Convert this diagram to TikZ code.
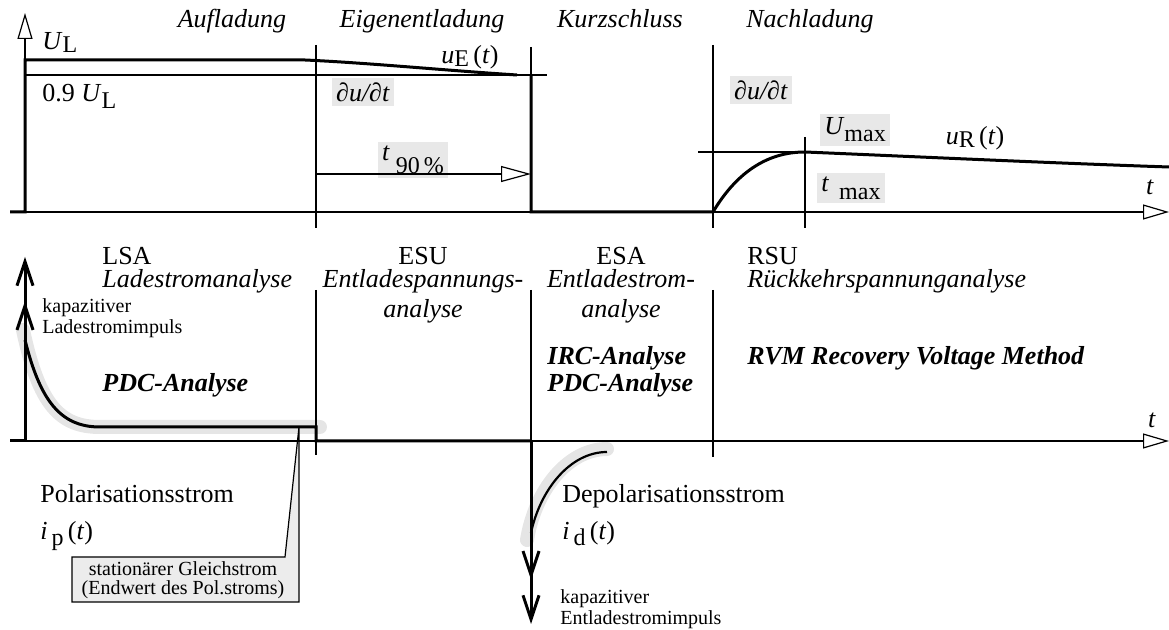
\documentclass[tikz,border=0pt]{standalone}
\usepackage{fontspec}
\setmainfont{Liberation Serif}
\usetikzlibrary{arrows.meta}

% lowered index, e.g. U_L
\newcommand\lowsub[2][2.5pt]{\raisebox{-#1}{\fontsize{12pt}{12pt}\selectfont #2}}
\newcommand\mainsize{\fontsize{13pt}{15pt}\selectfont}

\tikzset{
  sepline/.style={line width=0.6pt},
  sigline/.style={line width=1.5pt},
  axis/.style={sepline, -{Triangle[open,length=13pt,width=7.5pt]}},
  glow/.style={line width=7pt, gray!20, line cap=round},
  valbox/.style={fill=gray!18, inner sep=2pt},
  impulse/.style={sigline, -{Straight Barb[length=12pt,width=8pt,sep=7pt] Straight Barb[length=12pt,width=8pt]}},
  note/.style={font=\fontsize{10pt}{10.5pt}\selectfont, align=left, anchor=base west},
  phase/.style={font=\mainsize\itshape},
  method/.style={font=\mainsize\bfseries\itshape, anchor=base west},
}

\begin{document}
\begin{tikzpicture}[x=0.5pt, y=-0.5pt, font=\mainsize, every node/.append style={inner sep=0pt}]
  \useasboundingbox (0,0) rectangle (1169,630);

  % origins of both diagrams
  \coordinate (Ou) at (25,212);
  \coordinate (Oi) at (25,441);

  % grey highlights behind the currents
  \draw[glow] (23,330) .. controls (39,405) and (60,427) .. (100,427) -- (320,427);
  \draw[glow] (527,540) .. controls (535,490) and (568,449) .. (607,449);

  % callout
  \draw[sepline, fill=gray!15] (72,557) -- (285,557) -- (299,427) -- (299,602) -- (72,602) -- cycle;
  \node[font=\fontsize{10pt}{9.5pt}\selectfont, align=center] (endwert) at (183,580)
      {stationärer Gleichstrom\\(Endwert des Pol.stroms)};

  % value boxes
  \node[valbox] (dudtE) at (363,92)  {\textit{∂u/∂t}};
  \node[valbox] (t90)   at (413,160) {\textit{t}\hspace{3pt}\lowsub[6.5pt]{90\,\%}};
  \node[valbox] (dudtR) at (761,90)  {\textit{∂u/∂t}};
  \node[valbox] (Umax)  at (855,130) {\textit{U}\lowsub[3.5pt]{max}};
  \node[valbox] (tmax)  at (851,188) {\textit{t}\hspace{5pt}\lowsub[4pt]{max}};

  % ---- voltage diagram ----
  \draw[axis] (Ou) -- (25,13);
  \draw[axis] (Ou) -- (1169,212);
  \draw[sepline] (25,75) -- (547,75);
  \draw[sepline] (316,45) -- (316,228);
  \draw[sepline] (531,47) -- (531,212);
  \draw[sepline] (713,45) -- (713,228);
  \draw[sepline] (805,137) -- (805,228);
  \draw[sepline] (698,152) -- (805,152);
  \draw[sepline, -{Triangle[open,length=15pt,width=8pt]}] (316,174) -- (531,174);

  \draw[sigline] (10,212) -- (Ou) -- (25,60) -- (305,60)
      .. controls (370,63) and (440,70) .. (517,75);
  \draw[sigline] (531,75) -- (531,212) -- (713,212)
      .. controls (735,175) and (765,152) .. (805,152)
      .. controls (900,156) and (1050,163) .. (1169,167);

  % phase titles
  \node[phase, anchor=base] (auf)  at (232,28) {Aufladung};
  \node[phase, anchor=base] (eig)  at (422,28) {Eigenentladung};
  \node[phase, anchor=base] (kurz) at (620,28) {Kurzschluss};
  \node[phase, anchor=base west] (nach) at (746,28) {Nachladung};

  \node[anchor=base west] (UL)   at (42,50)   {\textit{U}\lowsub[1.5pt]{L}};
  \node[anchor=base west] (UL90) at (42,102)  {0.9 \textit{U}\lowsub[3.5pt]{L}};
  \node[anchor=base]      (uE)   at (470,64)  {\textit{u}\lowsub[1.5pt]{E}\,(\textit{t})};
  \node[anchor=base]      (uR)   at (975,145) {\textit{u}\lowsub[1.5pt]{R}\,(\textit{t})};
  \node[anchor=base]      (tu)   at (1150,195) {\textit{t}};

  % ---- current diagram ----
  \draw[axis] (Oi) -- (1169,441);
  \draw[sepline] (316,290) -- (316,455);
  \draw[sepline] (531,290) -- (531,441);
  \draw[sepline] (713,290) -- (713,457);

  \draw[sigline] (10,441) -- (Oi);
  \draw[impulse] (Oi) -- (25,257);
  \draw[sigline] (25,340) .. controls (40,400) and (60,427) .. (100,427)
      -- (316,427) -- (316,441) -- (531,441);
  \draw[impulse] (531,441) -- (531,624);
  \draw[line width=1.1pt] (531,533) .. controls (540,490) and (570,452) .. (607,452);

  \node[anchor=base] (ti) at (1152,428) {\textit{t}};

  % methods (base = last line)
  \node[anchor=base west] (lsa) at (102,265) {LSA};
  \node[phase, anchor=base west] (lsaT) at (102,288) {Ladestromanalyse};
  \node[anchor=base] (esu) at (423,265) {ESU};
  \node[phase, anchor=base, align=center] (esuT) at (423,318)
      {Entladespannungs-\\analyse};
  \node[anchor=base] (esa) at (621,265) {ESA};
  \node[phase, anchor=base, align=center] (esaT) at (621,318)
      {Entladestrom-\\analyse};
  \node[anchor=base west] (rsu) at (747,265) {RSU};
  \node[phase, anchor=base west] (rsuT) at (747,288) {Rückkehrspannunganalyse};

  \node[method] (pdcL) at (102,392) {PDC-Analyse};
  \node[method] (irc)  at (547,365) {IRC-Analyse};
  \node[method] (pdcR) at (547,392) {PDC-Analyse};
  \node[method] (rvm)  at (747,365) {RVM Recovery Voltage Method};

  \node[note] (kapL) at (42,334) {kapazitiver\\Ladestromimpuls};
  \node[note] (kapR) at (560,625) {kapazitiver\\Entladestromimpuls};

  \node[anchor=base west, align=left] (pol) at (40,540)
      {Polarisationsstrom\\[3.5pt]\textit{i}\hspace{2pt}\lowsub[3pt]{p}\,(\textit{t})};
  \node[anchor=base west, align=left] (depol) at (562,540)
      {Depolarisationsstrom\\[3.5pt]\textit{i}\hspace{2pt}\lowsub[3pt]{d}\,(\textit{t})};

\end{tikzpicture}
\end{document}
